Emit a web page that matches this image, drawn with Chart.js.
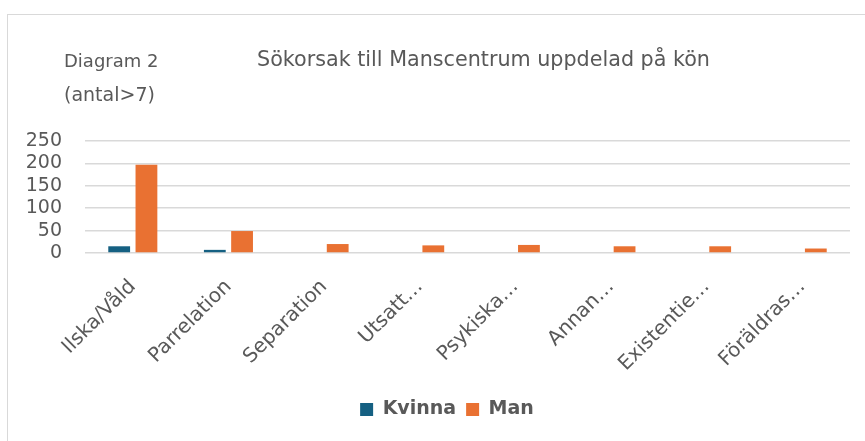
<!DOCTYPE html>
<html>
<head>
<meta charset="utf-8">
<script src="https://cdn.jsdelivr.net/npm/chart.js@4.4.1/dist/chart.umd.min.js"></script>
<style>
  body { margin: 0; background: #fff; }
  .ram { position: absolute; left: 7px; top: 14px; width: 900px; height: 500px; border: 1px solid #d9d9d9; }
  .wrap { position: absolute; left: 0; top: 0; width: 865px; height: 441px; }
</style>
</head>
<body>
<div class="ram"></div>
<div class="wrap"><canvas id="myChart" width="865" height="441"></canvas></div>
<script>
// data
const kategorier = ["Ilska/Våld", "Parrelation", "Separation", "Utsatt…", "Psykiska…", "Annan…", "Existentie…", "Föräldras…"];
const kvinna = [15, 7, null, null, null, null, null, null];
const man = [197, 49, 20, 17, 18, 15, 15, 10];
const yTicks = [0, 50, 100, 150, 200, 250];

const font = "DejaVu Sans";
const textColor = "#595959";

// rubriker
const rubriker = {
  id: "rubriker",
  afterLayout(chart) {
    // flytta legenden lite till hoger
    chart.legend.left += 10;
    chart.legend.right += 10;
  },
  afterDraw(chart) {
    const c = chart.ctx;
    c.save();
    c.fillStyle = textColor;
    c.textBaseline = "middle";
    c.textAlign = "left";
    c.font = "18px " + font;
    c.fillText("Diagram 2", 64, 62);
    c.font = "19px " + font;
    c.fillText("(antal>7)", 64, 96);
    c.font = "20.7px " + font;
    c.fillText("Sökorsak till Manscentrum uppdelad på kön", 257, 61);
    c.restore();
  }
};

const ctx = document.getElementById("myChart").getContext("2d");
const chart = new Chart(ctx, {
  type: "bar",
  data: {
    labels: kategorier,
    datasets: [
      { label: "Kvinna", data: kvinna, backgroundColor: "#156082", categoryPercentage: 0.57, barPercentage: 0.8 },
      { label: "Man", data: man, backgroundColor: "#E97132", categoryPercentage: 0.57, barPercentage: 0.8 }
    ]
  },
  options: {
    responsive: false,
    animation: false,
    layout: { padding: { top: 141, left: 24, right: 15, bottom: 12 } },
    plugins: {
      tooltip: { enabled: false },
      legend: {
        position: "bottom",
        labels: {
          color: textColor,
          font: { family: font, size: 19, weight: "bold" },
          boxWidth: 13,
          boxHeight: 13,
          padding: 10
        }
      }
    },
    scales: {
      x: {
        grid: { display: false },
        border: { display: false },
        ticks: {
          color: textColor,
          font: { family: font, size: 20 },
          minRotation: 45,
          maxRotation: 45,
          autoSkip: false,
          padding: 14
        },
        afterFit: s => { s.height = 137; }
      },
      y: {
        min: 0,
        max: 250,
        afterBuildTicks: s => { s.ticks = yTicks.map(v => ({ value: v })); },
        grid: { color: "#d9d9d9", lineWidth: 1.5, drawTicks: false },
        border: { display: false },
        ticks: {
          color: textColor,
          font: { family: font, size: 19 },
          padding: 23,
          autoSkip: false
        },
        afterFit: s => { s.width = 61; }
      }
    }
  },
  plugins: [rubriker]
});
</script>
</body>
</html>
